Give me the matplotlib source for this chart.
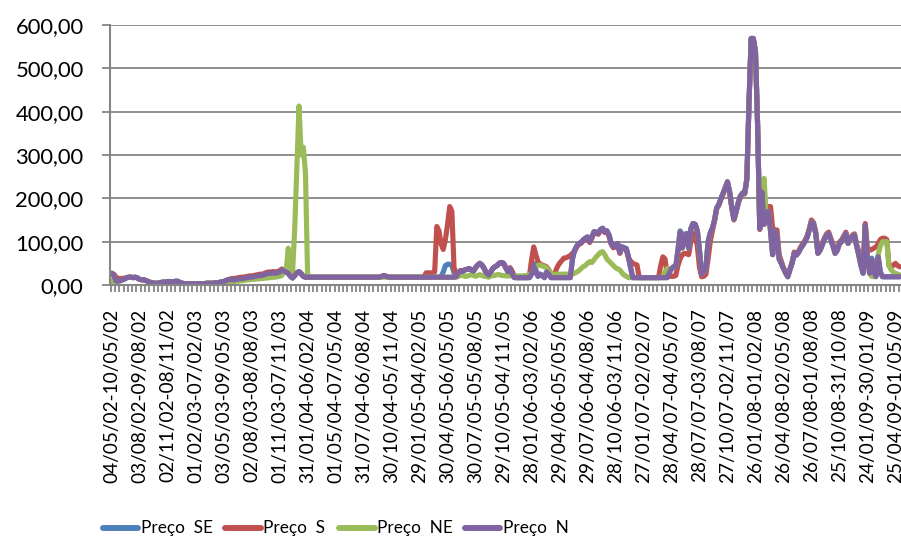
import matplotlib
matplotlib.use("Agg")
import matplotlib.pyplot as plt
from matplotlib.lines import Line2D
from matplotlib.ticker import FixedLocator, FuncFormatter
from matplotlib import font_manager

plt.rcParams["font.family"] = ["Lato", "DejaVu Sans"]

# Weekly spot prices (R$/MWh), one value per week starting 04/05/02
preco_n = [
    27, 22, 9, 9, 10, 12, 14, 17, 18, 18,
    17, 18, 16, 13, 12, 12, 10, 8, 6, 5,
    4, 4, 5, 6, 7, 7, 8, 8, 7, 8,
    9, 8, 5, 4, 3, 3, 3, 3, 3, 3,
    3, 3, 3, 3, 4, 4, 4, 4, 5, 5,
    6, 7, 8, 10, 12, 13, 12, 12, 13, 14,
    15, 15, 16, 17, 18, 18, 19, 20, 21, 22,
    22, 24, 26, 27, 27, 28, 27, 28, 30, 35,
    32, 30, 27, 20, 16, 22, 28, 31, 26, 20,
    18, 18, 18, 18, 18, 18, 18, 18, 18, 18,
    18, 18, 18, 18, 18, 18, 18, 18, 18, 18,
    18, 18, 18, 18, 18, 18, 18, 18, 18, 18,
    18, 18, 18, 18, 18, 19, 21, 21, 19, 18,
    18, 18, 18, 18, 18, 18, 18, 18, 18, 18,
    18, 18, 18, 18, 18, 18, 18, 18, 18, 18,
    18, 18, 18, 18, 18, 18, 18, 18, 18, 18,
    19, 28, 33, 31, 35, 36, 38, 35, 32, 40,
    46, 50, 46, 38, 28, 23, 30, 38, 42, 45,
    50, 52, 50, 40, 31, 38, 25, 17, 17, 17,
    17, 17, 17, 17, 17, 25, 44, 30, 20, 25,
    22, 17, 30, 25, 17, 17, 17, 17, 17, 17,
    17, 17, 17, 17, 60, 80, 90, 96, 98, 104,
    108, 111, 100, 110, 123, 122, 119, 128, 131, 123,
    125, 115, 96, 88, 90, 96, 75, 88, 86, 84,
    65, 40, 17, 17, 17, 17, 17, 17, 17, 17,
    17, 17, 17, 17, 17, 17, 17, 17, 17, 28,
    38, 42, 42, 80, 122, 85, 100, 119, 85, 130,
    142, 140, 125, 80, 25, 30, 40, 100, 120, 131,
    150, 178, 186, 200, 212, 225, 238, 215, 180, 152,
    170, 190, 205, 212, 212, 245, 420, 569, 569, 540,
    370, 130, 215, 140, 165, 170, 125, 70, 125, 110,
    60, 50, 38, 28, 19, 35, 50, 73, 69, 75,
    85, 92, 100, 110, 127, 146, 140, 119, 73, 80,
    92, 105, 115, 119, 104, 90, 73, 80, 95, 100,
    110, 119, 96, 105, 112, 115, 90, 69, 45, 27,
    138, 60, 27, 58, 30, 19, 65, 30, 19, 19,
    19, 19, 19, 19, 19, 19, 19,
]

preco_se = [
    27, 22, 9, 9, 10, 12, 14, 17, 18, 18,
    17, 18, 16, 13, 12, 12, 10, 8, 6, 5,
    4, 4, 5, 6, 7, 7, 8, 8, 7, 8,
    9, 8, 5, 4, 3, 3, 3, 3, 3, 3,
    3, 3, 3, 3, 4, 4, 4, 4, 5, 5,
    6, 7, 8, 10, 12, 13, 12, 12, 13, 14,
    15, 15, 16, 17, 18, 18, 19, 20, 21, 22,
    22, 24, 26, 27, 27, 28, 27, 28, 30, 35,
    32, 30, 27, 20, 16, 22, 28, 31, 26, 20,
    18, 18, 18, 18, 18, 18, 18, 18, 18, 18,
    18, 18, 18, 18, 18, 18, 18, 18, 18, 18,
    18, 18, 18, 18, 18, 18, 18, 18, 18, 18,
    18, 18, 18, 18, 18, 19, 21, 21, 19, 18,
    18, 18, 18, 18, 18, 18, 18, 18, 18, 18,
    18, 18, 18, 18, 18, 18, 18, 18, 18, 18,
    18, 18, 18, 20, 30, 45, 48, 48, 45, 28,
    25, 28, 33, 31, 35, 36, 38, 35, 32, 40,
    46, 50, 46, 38, 28, 23, 30, 38, 42, 45,
    50, 52, 50, 40, 31, 38, 25, 17, 17, 17,
    17, 17, 17, 17, 17, 25, 50, 35, 20, 25,
    22, 17, 30, 25, 17, 17, 17, 17, 17, 17,
    17, 17, 17, 17, 60, 80, 90, 96, 98, 104,
    108, 111, 100, 110, 123, 122, 119, 128, 131, 123,
    125, 115, 96, 88, 90, 96, 75, 88, 86, 84,
    65, 40, 17, 17, 17, 17, 17, 17, 17, 17,
    17, 17, 17, 17, 17, 17, 17, 17, 17, 28,
    38, 42, 42, 80, 125, 118, 110, 119, 85, 130,
    142, 140, 125, 80, 25, 30, 40, 100, 120, 131,
    150, 178, 186, 200, 212, 225, 238, 215, 180, 152,
    170, 190, 205, 212, 212, 245, 420, 569, 569, 540,
    370, 130, 215, 140, 165, 170, 125, 70, 125, 110,
    60, 50, 38, 28, 19, 35, 50, 73, 69, 75,
    85, 92, 100, 110, 127, 146, 140, 119, 73, 80,
    92, 105, 115, 119, 104, 90, 73, 80, 95, 100,
    110, 119, 96, 105, 112, 115, 90, 69, 45, 27,
    138, 60, 45, 62, 50, 25, 65, 30, 19, 19,
    19, 19, 19, 19, 19, 19, 19,
]

preco_s = [
    27, 25, 18, 15, 15, 15, 16, 17, 18, 18,
    17, 18, 16, 13, 12, 12, 10, 8, 6, 5,
    4, 4, 4, 5, 5, 4, 3, 2, 2, 2,
    2, 3, 3, 3, 3, 3, 3, 3, 3, 3,
    3, 3, 3, 3, 4, 4, 4, 4, 5, 5,
    6, 7, 8, 10, 12, 14, 15, 15, 16, 17,
    18, 18, 19, 20, 21, 21, 22, 23, 24, 25,
    25, 27, 29, 30, 30, 31, 30, 31, 33, 37,
    34, 31, 28, 22, 18, 22, 28, 31, 26, 20,
    18, 18, 18, 18, 18, 18, 18, 18, 18, 18,
    18, 18, 18, 18, 18, 18, 18, 18, 18, 18,
    18, 18, 18, 18, 18, 18, 18, 18, 18, 18,
    18, 18, 18, 18, 18, 19, 21, 21, 19, 18,
    18, 18, 18, 18, 18, 18, 18, 18, 18, 18,
    18, 18, 18, 18, 18, 18, 28, 28, 28, 28,
    30, 135, 125, 95, 82, 105, 140, 181, 170, 40,
    25, 28, 33, 31, 35, 36, 38, 35, 32, 40,
    46, 50, 46, 38, 28, 23, 30, 38, 42, 45,
    50, 52, 50, 40, 33, 40, 32, 20, 17, 17,
    17, 17, 17, 17, 20, 58, 88, 70, 54, 48,
    46, 44, 42, 35, 25, 19, 30, 42, 50, 56,
    62, 63, 65, 68, 73, 78, 88, 94, 96, 102,
    106, 109, 98, 108, 121, 120, 117, 126, 129, 121,
    123, 113, 94, 86, 88, 94, 73, 86, 84, 82,
    63, 55, 50, 48, 46, 17, 17, 17, 17, 17,
    17, 17, 17, 17, 17, 45, 65, 60, 25, 20,
    20, 20, 22, 45, 60, 70, 73, 72, 70, 100,
    120, 115, 90, 40, 19, 20, 25, 60, 100, 125,
    148, 176, 184, 198, 210, 223, 236, 213, 178, 150,
    168, 188, 203, 210, 210, 243, 418, 567, 567, 538,
    368, 128, 213, 140, 170, 181, 181, 130, 127, 127,
    70, 55, 40, 30, 21, 37, 52, 76, 72, 78,
    88, 95, 103, 113, 130, 150, 144, 123, 77, 84,
    96, 108, 118, 122, 108, 94, 77, 84, 99, 104,
    113, 122, 100, 108, 115, 118, 94, 77, 50, 40,
    142, 85, 80, 82, 85, 88, 95, 105, 108, 108,
    105, 45, 42, 45, 50, 45, 42,
]

preco_ne = [
    5, 15, 9, 9, 10, 12, 14, 17, 18, 18,
    17, 18, 16, 13, 12, 12, 10, 8, 6, 5,
    4, 4, 5, 6, 7, 7, 8, 8, 7, 8,
    9, 8, 5, 4, 3, 3, 3, 3, 3, 3,
    3, 3, 3, 3, 4, 4, 4, 4, 5, 5,
    5, 6, 7, 8, 8, 8, 8, 8, 9, 9,
    10, 10, 11, 12, 12, 13, 13, 14, 14, 15,
    15, 16, 16, 17, 17, 18, 18, 19, 20, 22,
    30, 30, 85, 30, 28, 130, 270, 413, 300, 318,
    258, 18, 18, 18, 18, 18, 18, 18, 18, 18,
    18, 18, 18, 18, 18, 18, 18, 18, 18, 18,
    18, 18, 18, 18, 18, 18, 18, 18, 18, 18,
    18, 18, 18, 18, 18, 18, 18, 18, 18, 18,
    18, 18, 18, 18, 18, 18, 18, 18, 18, 18,
    18, 18, 18, 18, 18, 18, 18, 18, 18, 18,
    18, 18, 18, 18, 18, 18, 18, 18, 18, 18,
    18, 20, 22, 22, 20, 20, 22, 24, 22, 20,
    22, 24, 22, 20, 20, 18, 20, 22, 22, 24,
    24, 22, 22, 21, 21, 21, 21, 21, 21, 21,
    21, 21, 22, 22, 24, 28, 35, 42, 45, 46,
    44, 42, 40, 32, 26, 25, 25, 25, 25, 25,
    25, 25, 25, 25, 25, 27, 30, 33, 38, 42,
    45, 50, 54, 52, 58, 65, 70, 75, 77, 70,
    60, 55, 50, 45, 40, 37, 35, 28, 23, 20,
    17, 17, 17, 17, 17, 17, 17, 17, 17, 17,
    17, 17, 17, 17, 17, 17, 20, 30, 38, 35,
    38, 42, 42, 80, 122, 85, 100, 119, 85, 130,
    142, 140, 125, 80, 25, 30, 40, 100, 120, 131,
    150, 178, 186, 200, 212, 225, 238, 215, 180, 152,
    170, 190, 205, 212, 212, 245, 420, 569, 569, 540,
    370, 130, 215, 246, 160, 170, 125, 70, 125, 110,
    60, 50, 38, 28, 19, 35, 50, 73, 69, 75,
    85, 92, 100, 110, 127, 146, 140, 119, 73, 80,
    92, 105, 115, 119, 104, 90, 73, 80, 95, 100,
    110, 119, 96, 105, 112, 115, 90, 69, 45, 27,
    138, 60, 27, 20, 19, 40, 70, 90, 100, 100,
    100, 45, 35, 30, 27, 25, 23,
]

# Labelled weeks (every 13th week)
week_labels = [
    "04/05/02-10/05/02", "03/08/02-09/08/02", "02/11/02-08/11/02",
    "01/02/03-07/02/03", "03/05/03-09/05/03", "02/08/03-08/08/03",
    "01/11/03-07/11/03", "31/01/04-06/02/04", "01/05/04-07/05/04",
    "31/07/04-06/08/04", "30/10/04-05/11/04", "29/01/05-04/02/05",
    "30/04/05-06/05/05", "30/07/05-05/08/05", "29/10/05-04/11/05",
    "28/01/06-03/02/06", "29/04/06-05/05/06", "29/07/06-04/08/06",
    "28/10/06-03/11/06", "27/01/07-02/02/07", "28/04/07-04/05/07",
    "28/07/07-03/08/07", "27/10/07-02/11/07", "26/01/08-01/02/08",
    "26/04/08-02/05/08", "26/07/08-01/08/08", "25/10/08-31/10/08",
    "24/01/09-30/01/09", "25/04/09-01/05/09",
]
label_step = 13

series = [
    ("Preço  SE", preco_se, "#4F81BD"),
    ("Preço  S", preco_s, "#C0504D"),
    ("Preço  NE", preco_ne, "#9BBB59"),
    ("Preço  N", preco_n, "#8064A2"),
]

# Narrow face for the legend when available
installed = {f.name for f in font_manager.fontManager.ttflist}
if "Liberation Sans Narrow" in installed:
    legend_family, legend_size = ["Liberation Sans Narrow", "DejaVu Sans"], 13.5
else:
    legend_family, legend_size = ["Lato", "DejaVu Sans"], 12.4

W, H = 901, 541
fig = plt.figure(figsize=(W / 100, H / 100), dpi=100)
ax = fig.add_axes([110 / W, 1 - 285 / H, (W - 110) / W, 260 / H])

n = len(preco_n)
weeks = list(range(n))
for name, vals, color in series:
    ax.plot(weeks, vals, color=color, lw=3.7, solid_joinstyle="round",
            solid_capstyle="round", label=name)

grid_c = "#868686"
ax.set_ylim(0, 600)
ax.set_xlim(-0.79, 366.6)
ax.set_yticks(range(0, 601, 100))
ax.yaxis.set_major_formatter(FuncFormatter(lambda v, p: f"{v:.2f}".replace(".", ",")))
ax.grid(axis="y", color=grid_c, lw=1.3)
ax.set_axisbelow(True)

ax.set_xticks([k * label_step for k in range(len(week_labels))])
ax.set_xticklabels(week_labels, rotation=90, ha="center", va="top")
ax.xaxis.set_minor_locator(FixedLocator([k + 0.5 for k in range(-1, n, 2)]))

for s in ("top", "right"):
    ax.spines[s].set_visible(False)
for s in ("left", "bottom"):
    ax.spines[s].set_color(grid_c)
    ax.spines[s].set_linewidth(1.5)

ax.tick_params(axis="y", length=6, width=1.3, color=grid_c, pad=13,
               labelsize=15.8, labelcolor="black")
ax.tick_params(axis="x", which="major", length=0, pad=17, labelsize=13.7,
               labelcolor="black")
ax.tick_params(axis="x", which="minor", length=5, width=1.3, color=grid_c)

# Legend row under the chart: swatch start, swatch end, text start (pixels)
legend_slots = [(103, 138, 141), (225, 261, 263), (339, 375, 377), (465, 500, 503)]
legend_y = 1 - 528 / H
for (x0, x1, xt), (name, _, color) in zip(legend_slots, series):
    fig.add_artist(Line2D([x0 / W, x1 / W], [legend_y, legend_y],
                          transform=fig.transFigure, color=color, lw=4.3,
                          solid_capstyle="round"))
    fig.text(xt / W, legend_y, name, fontsize=legend_size, family=legend_family,
             ha="left", va="center")

fig.savefig("out.png", dpi=100)
